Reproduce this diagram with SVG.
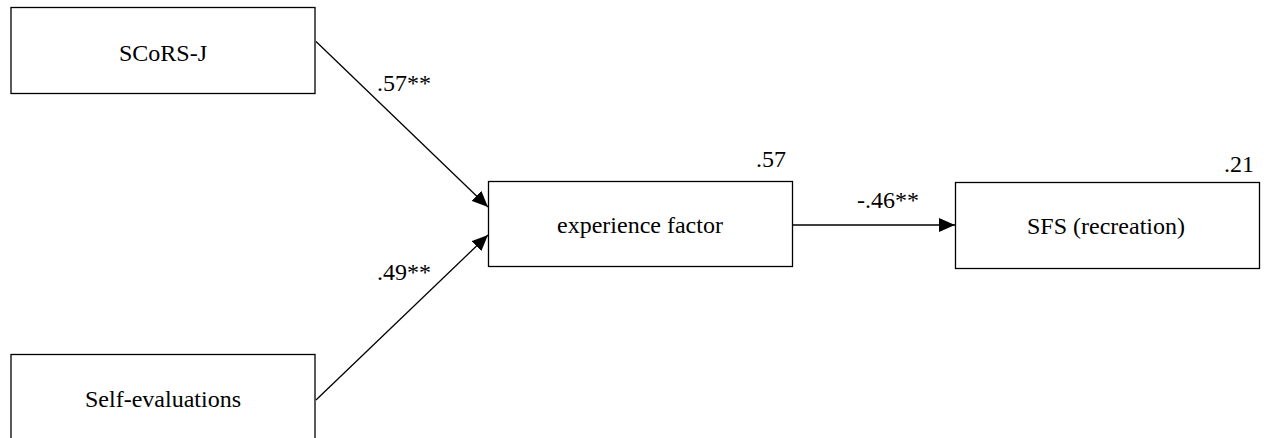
<svg xmlns="http://www.w3.org/2000/svg" width="1264" height="438" viewBox="0 0 1264 438" font-family="'Liberation Serif', 'Times New Roman', Times, serif">
  <style>
    .box { fill: #ffffff; stroke: #000000; stroke-width: 1.3; }
    .lbl { font-size: 24px; fill: #000000; }
    .mid { text-anchor: middle; }
    .end { text-anchor: end; }
    .path { stroke: #000000; stroke-width: 1.3; fill: none; marker-end: url(#head); }
  </style>
  <defs>
    <marker id="head" viewBox="0 0 16 14" refX="16" refY="7" markerWidth="16" markerHeight="14" markerUnits="userSpaceOnUse" orient="auto">
      <path d="M0,0 L16,7 L0,14 Z" fill="#000000"/>
    </marker>
  </defs>
  <rect width="1264" height="438" fill="#ffffff"/>

  <g id="connectors">
    <line class="path" x1="316" y1="41.5" x2="488" y2="207"/>
    <line class="path" x1="316" y1="400" x2="488" y2="235"/>
    <line class="path" x1="793" y1="225" x2="955" y2="225"/>
    <text class="lbl" x="377" y="91">.57**</text>
    <text class="lbl" x="377" y="280">.49**</text>
    <text class="lbl" x="857" y="208">-.46**</text>
  </g>

  <g id="scors-j">
    <rect class="box" x="11" y="7.5" width="304" height="86"/>
    <text class="lbl mid" x="163" y="61">SCoRS-J</text>
  </g>

  <g id="self-evaluations">
    <rect class="box" x="11" y="354.5" width="304" height="100"/>
    <text class="lbl mid" x="163" y="407">Self-evaluations</text>
  </g>

  <g id="experience-factor">
    <rect class="box" x="488.5" y="181.5" width="304" height="85"/>
    <text class="lbl mid" x="640" y="233">experience factor</text>
    <text class="lbl end" x="786" y="167">.57</text>
  </g>

  <g id="sfs-recreation">
    <rect class="box" x="955.5" y="182.5" width="304" height="86"/>
    <text class="lbl mid" x="1106" y="234">SFS (recreation)</text>
    <text class="lbl end" x="1254" y="172">.21</text>
  </g>
</svg>
